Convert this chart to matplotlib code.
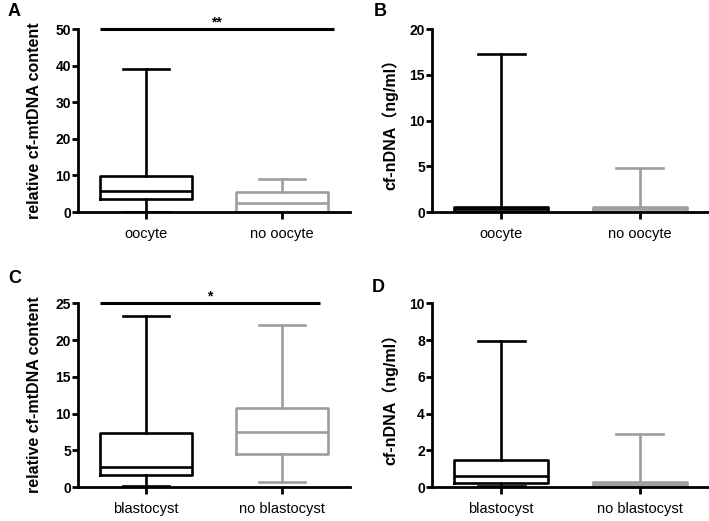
import matplotlib
matplotlib.use("Agg")
import matplotlib.pyplot as plt

plt.rcParams['font.family'] = ['Liberation Sans', 'Noto Sans CJK SC', 'DejaVu Sans']

# ---- data ----
cats_A = ["oocyte", "no oocyte"]
cats_C = ["blastocyst", "no blastocyst"]

# each: [whislo, q1, med, q3, whishi]
A_vals = [[0.0, 3.5, 5.8, 9.9, 39.1], [0.0, 0.1, 2.5, 5.6, 8.9]]
B_vals = [[0.0, 0.05, 0.3, 0.5, 17.3], [0.0, 0.05, 0.3, 0.6, 4.85]]
C_vals = [[0.15, 1.65, 2.8, 7.35, 23.2], [0.7, 4.45, 7.55, 10.8, 22.1]]
D_vals = [[0.08, 0.2, 0.62, 1.5, 7.95], [0.0, 0.05, 0.15, 0.3, 2.9]]

A_yticks = [0, 10, 20, 30, 40, 50]
B_yticks = [0, 5, 10, 15, 20]
C_yticks = [0, 5, 10, 15, 20, 25]
D_yticks = [0, 2, 4, 6, 8, 10]

ylab_mt = "relative cf-mtDNA content"
ylab_n = "cf-nDNA\uff08ng/ml\uff09"

colors = ["black", "#9e9e9e"]

fig = plt.figure(figsize=(7.09, 5.21), dpi=100)

W = 0.384
H = 0.351
axA = fig.add_axes([0.110, 0.593, W, H])
axB = fig.add_axes([0.609, 0.593, 0.391, H])
axC = fig.add_axes([0.110, 0.065, W, 0.353])
axD = fig.add_axes([0.609, 0.065, 0.391, 0.353])

LW = 1.9

def draw(ax, vals, cats, yticks, ylabel, lpad, sig=None):
    for i, (v, c) in enumerate(zip(vals, colors)):
        st = dict(whislo=v[0], q1=v[1], med=v[2], q3=v[3], whishi=v[4], fliers=[])
        lp = dict(color=c, linewidth=LW)
        ax.bxp([st], positions=[i + 1], widths=0.68, showfliers=False,
               boxprops=lp, whiskerprops=lp, capprops=lp, medianprops=lp,
               manage_ticks=False)
    ax.set_xlim(0.5, 2.5)
    ax.set_ylim(yticks[0], yticks[-1])
    ax.set_yticks(yticks)
    ax.set_yticklabels([str(t) for t in yticks], fontweight='bold', fontsize=10)
    ax.set_xticks([1, 2])
    ax.set_xticklabels(cats, fontsize=10.5)
    for s in ['top', 'right']:
        ax.spines[s].set_visible(False)
    for s in ['left', 'bottom']:
        ax.spines[s].set_linewidth(2.0)
    ax.tick_params(axis='y', width=2.0, length=4, pad=1)
    ax.tick_params(axis='x', width=2.0, length=5, pad=6)
    ax.set_ylabel(ylabel, fontweight='bold', fontsize=11.5, labelpad=lpad)
    if sig is not None:
        x0, x1, txt = sig
        ytop = yticks[-1]
        ax.plot([x0, x1], [ytop, ytop], color='black', linewidth=2.2, clip_on=False,
                solid_capstyle='butt')
        ax.text((x0 + x1) / 2, ytop, txt, ha='center', va='bottom', fontsize=10,
                fontweight='bold', clip_on=False)

draw(axA, A_vals, cats_A, A_yticks, ylab_mt, 10, sig=(0.66, 2.38, "**"))
draw(axB, B_vals, cats_A, B_yticks, ylab_n, 8)
draw(axC, C_vals, cats_C, C_yticks, ylab_mt, 10, sig=(0.66, 2.28, "*"))
draw(axD, D_vals, cats_C, D_yticks, ylab_n, 8)

for lab, (x, y) in zip("ABCD", [(0.011, 0.978), (0.527, 0.978), (0.011, 0.466), (0.524, 0.449)]):
    fig.text(x, y, lab, fontsize=13, fontweight='bold', ha='left', va='center')

fig.savefig("out.png", dpi=100)
